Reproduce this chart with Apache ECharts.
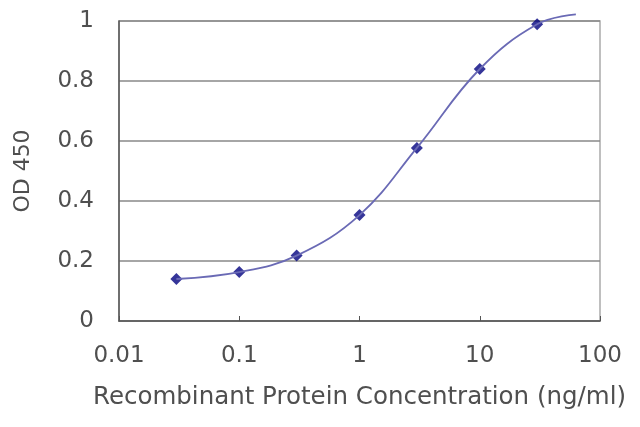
<!DOCTYPE html>
<html>
<head>
<meta charset="utf-8">
<script src="https://cdn.jsdelivr.net/npm/echarts@6/dist/echarts.min.js"></script>
<style>html,body{margin:0;padding:0;background:#fff;}#c{width:640px;height:427px;}</style>
</head>
<body>
<div id="c"></div>
<script>
var concentrations = [0.03, 0.1, 0.3, 1, 3, 10, 30];
var odValues = [0.14, 0.163, 0.218, 0.353, 0.577, 0.84, 0.989];
var curveX = [0.03, 0.1, 0.3, 1, 3, 10, 30, 63];
var curveY = [0.14, 0.163, 0.218, 0.353, 0.577, 0.84, 0.989, 1.022];
var xTickLabels = ['0.01', '0.1', '1', '10', '100'];
var yTickLabels = ['0', '0.2', '0.4', '0.6', '0.8', '1'];

var chart = echarts.init(document.getElementById('c'));
var fam = 'DejaVu Sans, Liberation Sans, Arial, sans-serif';
var tick = {color: '#4f4f4f', fontFamily: fam, fontSize: 23};
chart.setOption({
  animation: false,
  grid: {left: 119, right: 40, top: 21, bottom: 106, show: true, borderColor: '#aaa', borderWidth: 1.5},
  xAxis: {
    type: 'log', logBase: 10, min: 0.01, max: 100,
    name: 'Recombinant Protein Concentration (ng/ml)', nameLocation: 'middle', nameGap: 64,
    nameTextStyle: {color: '#4f4f4f', fontFamily: fam, fontSize: 24.5},
    axisLine: {lineStyle: {color: '#555', width: 1.5}},
    axisTick: {inside: true, length: 5, lineStyle: {color: '#555'}},
    minorTick: {show: false},
    splitLine: {show: false},
    axisLabel: Object.assign({margin: 24, formatter: function (v) {
      var i = Math.round(Math.log10(v)) + 2; return xTickLabels[i] || '';
    }}, tick)
  },
  yAxis: {
    type: 'value', min: 0, max: 1, interval: 0.2,
    name: 'OD 450', nameLocation: 'middle', nameGap: 85, nameRotate: 90,
    nameTextStyle: {color: '#4f4f4f', fontFamily: fam, fontSize: 22},
    axisLine: {show: true, lineStyle: {color: '#555', width: 1.5}},
    axisTick: {show: false},
    splitLine: {lineStyle: {color: '#888', width: 1.5}},
    axisLabel: Object.assign({margin: 25, formatter: function (v) {
      return yTickLabels[Math.round(v / 0.2)];
    }}, tick)
  },
  series: [
    {
      type: 'line', smooth: 0.4, showSymbol: false, clip: false,
      data: curveX.map(function (x, i) { return [x, curveY[i]]; }),
      lineStyle: {color: '#6a6ab5', width: 1.8}
    },
    {
      type: 'scatter', symbol: 'diamond', symbolSize: 12,
      data: concentrations.map(function (x, i) { return [x, odValues[i]]; }),
      itemStyle: {color: '#03037f'}
    }
  ]
});
</script>
</body>
</html>
